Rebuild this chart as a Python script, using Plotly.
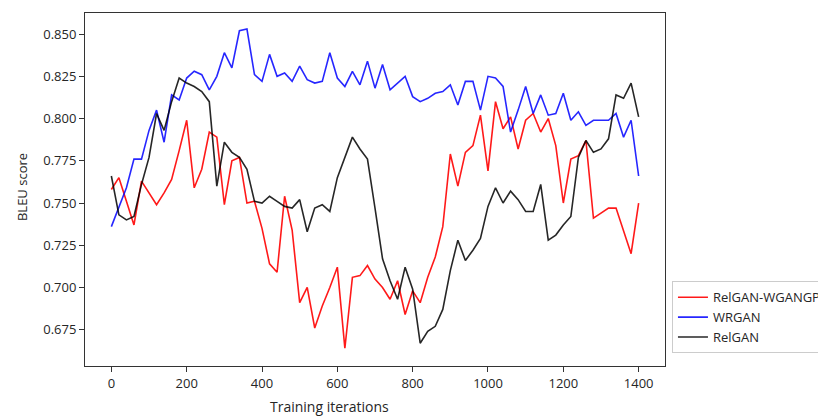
import plotly.graph_objects as go

iterations = list(range(0, 1401, 20))

relgan_wgangp = [
    0.758, 0.765, 0.751, 0.737, 0.763, 0.756, 0.749, 0.756, 0.764, 0.781,
    0.799, 0.759, 0.770, 0.792, 0.789, 0.749, 0.775, 0.777, 0.750, 0.751,
    0.735, 0.714, 0.709, 0.754, 0.734, 0.691, 0.700, 0.676, 0.689, 0.700,
    0.712, 0.664, 0.706, 0.707, 0.713, 0.705, 0.700, 0.693, 0.704, 0.684,
    0.698, 0.691, 0.706, 0.718, 0.736, 0.779, 0.760, 0.780, 0.784, 0.802,
    0.769, 0.810, 0.794, 0.801, 0.782, 0.799, 0.803, 0.792, 0.800, 0.784,
    0.750, 0.776, 0.778, 0.787, 0.741, 0.744, 0.747, 0.747, 0.734, 0.720,
    0.750,
]

wrgan = [
    0.736, 0.748, 0.759, 0.776, 0.776, 0.793, 0.805, 0.786, 0.814, 0.811,
    0.824, 0.828, 0.826, 0.817, 0.825, 0.839, 0.830, 0.852, 0.853, 0.826,
    0.822, 0.838, 0.825, 0.827, 0.822, 0.831, 0.823, 0.821, 0.822, 0.839,
    0.824, 0.819, 0.828, 0.820, 0.834, 0.818, 0.832, 0.817, 0.821, 0.825,
    0.813, 0.810, 0.812, 0.815, 0.816, 0.820, 0.808, 0.822, 0.822, 0.805,
    0.825, 0.824, 0.819, 0.792, 0.805, 0.819, 0.803, 0.814, 0.802, 0.803,
    0.815, 0.799, 0.804, 0.796, 0.799, 0.799, 0.799, 0.803, 0.789, 0.799,
    0.766,
]

relgan = [
    0.766, 0.743, 0.740, 0.742, 0.761, 0.777, 0.803, 0.793, 0.810, 0.824,
    0.821, 0.819, 0.816, 0.810, 0.760, 0.786, 0.780, 0.777, 0.770, 0.751,
    0.750, 0.754, 0.751, 0.748, 0.747, 0.752, 0.733, 0.747, 0.749, 0.745,
    0.765, 0.777, 0.789, 0.782, 0.776, 0.747, 0.717, 0.704, 0.693, 0.712,
    0.699, 0.667, 0.674, 0.677, 0.687, 0.710, 0.728, 0.716, 0.722, 0.729,
    0.748, 0.759, 0.750, 0.757, 0.752, 0.745, 0.745, 0.761, 0.728, 0.731,
    0.737, 0.742, 0.777, 0.787, 0.780, 0.782, 0.788, 0.814, 0.812, 0.821,
    0.801,
]

series_names = ["RelGAN-WGANGP", "WRGAN", "RelGAN"]
series_colors = ["rgba(255,0,0,0.9)", "rgba(0,0,255,0.85)", "rgba(0,0,0,0.85)"]
series_values = [relgan_wgangp, wrgan, relgan]

x_ticks = [0, 200, 400, 600, 800, 1000, 1200, 1400]
y_ticks = [0.675, 0.700, 0.725, 0.750, 0.775, 0.800, 0.825, 0.850]

fig = go.Figure()
for name, color, vals in zip(series_names, series_colors, series_values):
    fig.add_trace(go.Scatter(
        x=iterations, y=vals, mode="lines", name=name,
        line=dict(color=color, width=1.6),
    ))

font_family = "Open Sans, DejaVu Sans, sans-serif"

fig.update_layout(
    width=826, height=417,
    margin=dict(l=77, r=169, t=5, b=59, autoexpand=False),
    paper_bgcolor="white", plot_bgcolor="white",
    font=dict(family=font_family, size=13, color="#262626"),
    showlegend=True,
    legend=dict(
        x=1.012, y=0.24, xanchor="left", yanchor="top",
        bgcolor="white", bordercolor="#cccccc", borderwidth=1,
        font=dict(size=13, color="#262626"),
        tracegroupgap=0, itemwidth=30,
    ),
    xaxis=dict(
        range=[-70, 1470], tickvals=x_ticks,
        ticktext=[str(v) for v in x_ticks],
        showgrid=False, zeroline=False, automargin=False,
        showline=True, linecolor="#333", linewidth=1, mirror=True,
        ticks="outside", ticklen=5, tickcolor="#333",
    ),
    yaxis=dict(
        range=[0.6535, 0.8625], tickvals=y_ticks,
        ticktext=[f"{v:.3f}" for v in y_ticks],
        showgrid=False, zeroline=False, automargin=False,
        showline=True, linecolor="#333", linewidth=1, mirror=True,
        ticks="outside", ticklen=5, tickcolor="#333",
    ),
    annotations=[
        dict(text="Training iterations", xref="paper", yref="paper",
             x=0.4224, y=-0.116, xanchor="center", yanchor="middle",
             showarrow=False, font=dict(size=14, color="#262626")),
        dict(text="BLEU score", xref="paper", yref="paper",
             x=-0.1086, y=0.507, xanchor="center", yanchor="middle",
             textangle=-90, showarrow=False, font=dict(size=13, color="#262626")),
    ],
)

fig.write_html("out.html")
